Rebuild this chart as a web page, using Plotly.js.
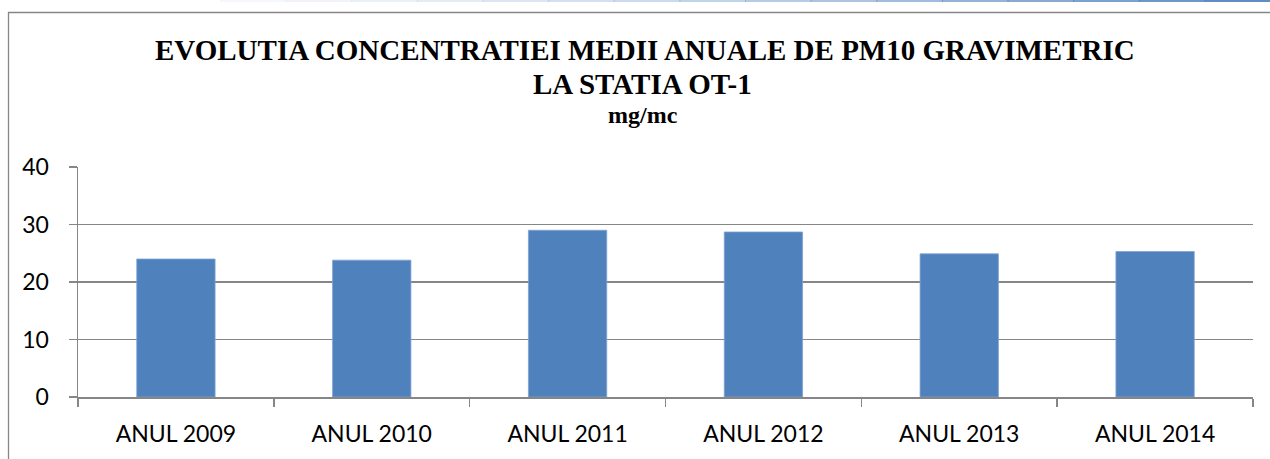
<!DOCTYPE html>
<html>
<head>
<meta charset="utf-8">
<script src="https://cdn.plot.ly/plotly-3.0.1.min.js"></script>
<style>html,body{margin:0;padding:0;background:#fff;}#chart{width:1270px;height:459px;}</style>
</head>
<body>
<div id="chart"></div>
<script>
const categories = ["ANUL 2009", "ANUL 2010", "ANUL 2011", "ANUL 2012", "ANUL 2013", "ANUL 2014"];
const values = [24.0, 23.8, 29.0, 28.7, 24.9, 25.3];
const yTicks = [0, 10, 20, 30, 40];
const titleLines = ["EVOLUTIA CONCENTRATIEI MEDII ANUALE DE PM10 GRAVIMETRIC", "LA STATIA OT-1", "mg/mc"];

// layout geometry (pixels)
const W = 1270, H = 459;
const M = {l: 78, r: 17, t: 167, b: 62};
const pw = W - M.l - M.r, ph = H - M.t - M.b;
const px = x => (x - M.l) / pw;
const py = y => (H - M.b - y) / ph;

const grey = "#868686";

const shapes = [
  {type: "rect", xref: "paper", yref: "paper", x0: px(8.5), x1: px(1290), y0: py(480), y1: py(12.5),
   line: {color: grey, width: 1.3}, fillcolor: "rgba(0,0,0,0)", layer: "below"}
];
// faint-to-strong blue header rule
const steps = 16;
for (let i = 0; i < steps; i++) {
  const a = 220 + (1270 - 220) * i / steps, b = 220 + (1270 - 220) * (i + 1) / steps;
  shapes.push({type: "line", xref: "paper", yref: "paper", x0: px(a), x1: px(b + 1), y0: py(1), y1: py(1),
    line: {color: "rgba(79,129,189," + (0.05 + 0.85 * Math.pow((i + 1) / steps, 1.5)).toFixed(3) + ")", width: 2}});
}

const annotations = [
  {text: "<b>" + titleLines[0] + "</b>", x: px(645), y: py(50), size: 29},
  {text: "<b>" + titleLines[1] + "</b>", x: px(642), y: py(84), size: 29},
  {text: "<b>" + titleLines[2] + "</b>", x: px(643), y: py(115), size: 24}
].map(a => ({xref: "paper", yref: "paper", showarrow: false, xanchor: "center", yanchor: "middle",
  text: a.text, x: a.x, y: a.y, font: {family: "Liberation Serif", color: "#000000", size: a.size}}));

const data = [{
  type: "bar",
  x: categories,
  y: values,
  marker: {color: "#4f81bd", line: {color: "#7fa3d0", width: 0.8}},
  hoverinfo: "x+y"
}];

const tickFont = {family: "Lato", color: "#000000", size: 23};

const layout = {
  width: W, height: H,
  margin: M,
  paper_bgcolor: "#fff", plot_bgcolor: "#fff",
  showlegend: false,
  bargap: 0.6,
  font: {family: "Liberation Serif", color: "#000000"},
  xaxis: {
    type: "category",
    showline: true, linecolor: grey, linewidth: 1.5,
    ticks: "outside", tickson: "boundaries", ticklen: 8, tickcolor: grey, tickwidth: 1.5,
    showgrid: false, zeroline: false,
    tickfont: tickFont,
    ticklabelstandoff: 16
  },
  yaxis: {
    range: [0, 40], tickvals: yTicks, ticktext: yTicks.map(String),
    showline: true, linecolor: grey, linewidth: 1.5,
    ticks: "outside", ticklen: 8, tickcolor: grey, tickwidth: 1.5,
    showgrid: true, gridcolor: grey, gridwidth: 1.5,
    zeroline: false,
    tickfont: tickFont,
    ticklabelstandoff: 15
  },
  shapes: shapes,
  annotations: annotations
};

Plotly.newPlot("chart", data, layout, {displayModeBar: false, staticPlot: true});
</script>
</body>
</html>
